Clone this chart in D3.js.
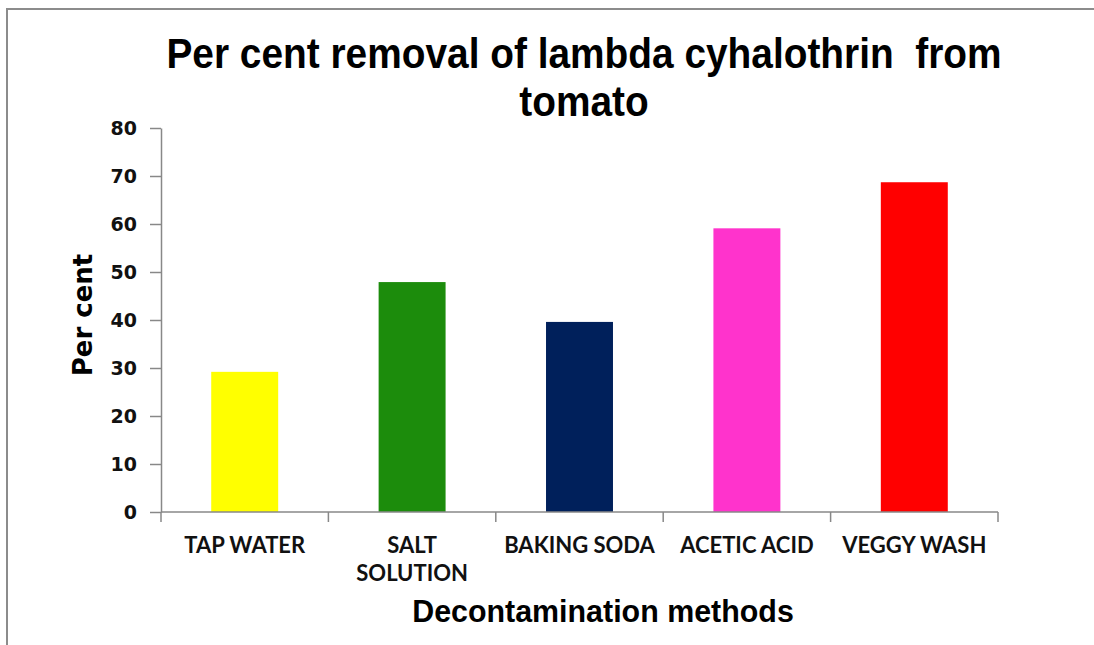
<!DOCTYPE html>
<html>
<head>
<meta charset="utf-8">
<script src="https://cdn.jsdelivr.net/npm/d3@7"></script>
<style>
  body { margin: 0; background: #fff; }
  .narrow { font-family: "Liberation Sans Narrow", "Arial Narrow", "Liberation Sans", sans-serif; font-weight: bold; white-space: pre; }
  .cat { font-family: Lato, "Liberation Sans", sans-serif; font-weight: bold; }
  .tick text { font-family: "DejaVu Sans", Verdana, sans-serif; font-weight: bold; }
</style>
</head>
<body>
<div id="chart"></div>
<script>
const categories = ["TAP WATER", "SALT SOLUTION", "BAKING SODA", "ACETIC ACID", "VEGGY WASH"];
const values = [29.2, 47.9, 39.6, 59.1, 68.7];
const colors = ["#ffff00", "#1c8c0c", "#00205b", "#ff33cc", "#ff0000"];
const yTicks = [0, 10, 20, 30, 40, 50, 60, 70, 80];

const W = 1094, H = 645;
const margin = { top: 128, right: 96, bottom: 133, left: 161 };
const width = W - margin.left - margin.right;
const height = H - margin.top - margin.bottom;

const svg = d3.select("#chart").append("svg")
    .attr("width", W)
    .attr("height", H);

// frame (top and left edges visible)
svg.append("line").attr("x1", 6).attr("x2", W).attr("y1", 9).attr("y2", 9)
    .attr("stroke", "#8c8c8c").attr("stroke-width", 2);
svg.append("line").attr("x1", 7).attr("x2", 7).attr("y1", 8).attr("y2", H)
    .attr("stroke", "#8c8c8c").attr("stroke-width", 2);

const x = d3.scaleBand().domain(categories).range([0, width]).paddingInner(0.6).paddingOuter(0.3);
const y = d3.scaleLinear().domain([0, 80]).range([height, 0]);

const g = svg.append("g").attr("transform", `translate(${margin.left},${margin.top})`);

g.selectAll("rect.bar")
    .data(categories)
    .join("rect")
    .attr("class", "bar")
    .attr("x", d => x(d))
    .attr("width", x.bandwidth())
    .attr("y", (d, i) => y(values[i]))
    .attr("height", (d, i) => height - y(values[i]))
    .attr("fill", (d, i) => colors[i]);

// y axis
const yAxisG = g.append("g")
    .call(d3.axisLeft(y).tickValues(yTicks).tickSize(11).tickSizeOuter(0).tickPadding(13));
yAxisG.selectAll("text").attr("font-size", 19).attr("fill", "#111");
yAxisG.selectAll("line, path").attr("stroke", "#888").attr("stroke-width", 1.5);

// x axis with boundary ticks
const step = width / categories.length;
const xAxisG = g.append("g").attr("transform", `translate(0,${height})`);
xAxisG.append("line").attr("x1", 0).attr("x2", width).attr("y1", 0).attr("y2", 0)
    .attr("stroke", "#888").attr("stroke-width", 1.5);
xAxisG.selectAll("line.sep")
    .data(d3.range(categories.length + 1))
    .join("line")
    .attr("class", "sep")
    .attr("x1", i => i * step).attr("x2", i => i * step)
    .attr("y1", 0).attr("y2", 10)
    .attr("stroke", "#888").attr("stroke-width", 1.5);

const labels = xAxisG.selectAll("text.cat")
    .data(categories)
    .join("text")
    .attr("class", "cat")
    .attr("text-anchor", "middle")
    .attr("font-size", 22)
    .attr("fill", "#111")
    .attr("transform", d => `translate(${x(d) + x.bandwidth() / 2},41)`);
labels.each(function (d) {
    const parts = d === "SALT SOLUTION" ? ["SALT", "SOLUTION"] : [d];
    d3.select(this).selectAll("tspan")
        .data(parts)
        .join("tspan")
        .attr("x", 0)
        .attr("dy", (p, i) => i === 0 ? 0 : 28)
        .text(p => p);
});

// titles
const title = svg.append("text")
    .attr("class", "narrow")
    .attr("text-anchor", "middle")
    .attr("font-size", 42)
    .attr("fill", "#000")
    .attr("transform", "translate(584,0) scale(0.925,1)");
title.append("tspan").attr("x", 0).attr("y", 68).text("Per cent removal of lambda cyhalothrin  from");
title.append("tspan").attr("x", 0).attr("y", 116).text("tomato");

svg.append("text")
    .attr("class", "narrow")
    .attr("text-anchor", "middle")
    .attr("font-size", 32)
    .attr("transform", "translate(603,622) scale(0.95,1)")
    .text("Decontamination methods");

svg.append("text")
    .attr("text-anchor", "middle")
    .attr("font-family", "'DejaVu Sans', Verdana, sans-serif")
    .attr("font-weight", "bold")
    .attr("font-size", 26)
    .attr("transform", "translate(92,315) rotate(-90)")
    .text("Per cent");
</script>
</body>
</html>
